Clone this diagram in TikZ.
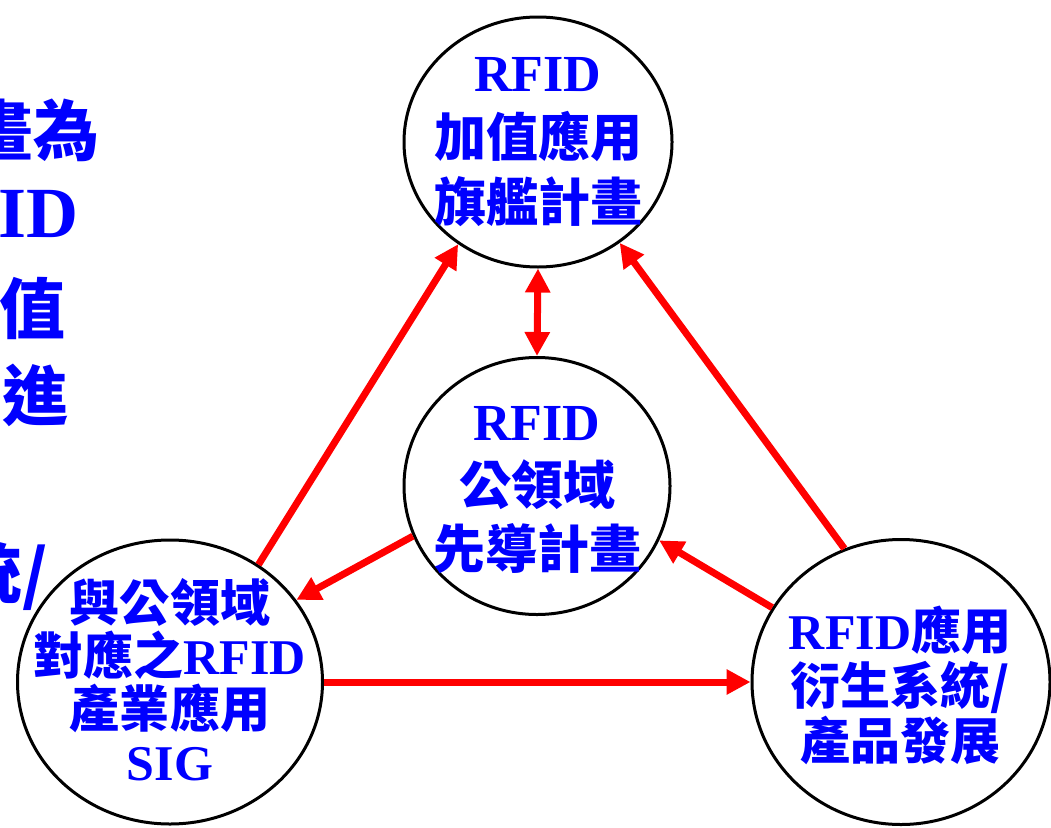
\documentclass[tikz,border=0pt]{standalone}
\usepackage{fontspec}
\setmainfont{Liberation Serif}
\newfontfamily\cjk{Noto Sans CJK TC}
\usetikzlibrary{arrows.meta}
\usetikzlibrary{shapes.geometric}
\definecolor{txtblue}{RGB}{0,0,255}

\begin{document}
\begin{tikzpicture}[x=1pt,y=-1pt]
	\clip (0,0) rectangle (1051,827);

	% text cut off at the left edge
	\begin{scope}[every node/.style={anchor=base east, inner sep=0pt, text=txtblue, font=\bfseries}]
		\node (l1) at (100,155) {\fontsize{66}{66}\selectfont\cjk 畫為};
		\node (l2) at (79,237) {\fontsize{72}{72}\selectfont ID};
		\node (l3) at (66,333) {\fontsize{66}{66}\selectfont\cjk 值};
		\node (l4) at (69,420) {\fontsize{66}{66}\selectfont\cjk 進};
		\node (l5) at (48,598) {\fontsize{66}{66}\selectfont\cjk 統/};
	\end{scope}

	\begin{scope}[every node/.style={ellipse, draw=black, line width=3pt, inner sep=0pt}]
		\node[minimum width=268pt, minimum height=250pt] (plan) at (538,142) {};
		\node[minimum width=266pt, minimum height=257pt] (pilot) at (537,486) {};
		\node[minimum width=305pt, minimum height=284pt] (sig) at (170,682) {};
		\node[minimum width=298pt, minimum height=285pt] (prod) at (901,682) {};
	\end{scope}

	\begin{scope}[every node/.style={align=center, inner sep=0pt, text=txtblue}]
		\node[font=\bfseries\fontsize{52}{65}\selectfont] (plan-t) at (plan) {RFID\\{\cjk 加值應用}\\{\cjk 旗艦計畫}};
		\node[font=\bfseries\fontsize{52}{64}\selectfont] (pilot-t) at (537,490) {RFID\\{\cjk 公領域}\\{\cjk 先導計畫}};
		\node[font=\bfseries\fontsize{50}{53}\selectfont] (sig-t) at (170,680) {{\cjk 與公領域}\\{\cjk 對應之}RFID\\{\cjk 產業應用}\\SIG};
		\node[font=\bfseries\fontsize{50}{55}\selectfont] (prod-t) at (900,685) {RFID{\cjk 應用}\\{\cjk 衍生系統/}\\{\cjk 產品發展}};
	\end{scope}

	\begin{scope}[>={Triangle[length=24pt,width=24pt]},
	              every edge/.style={draw=red, line width=7pt}]
		\path (sig.53) edge[->] (plan.232);
		\path (prod.113) edge[->] (plan.309);
		\path (plan.south) edge[<->] (pilot.north);
		\path (pilot.202) edge[->] (sig.33);
		\path (prod.150) edge[->] (pilot.336);
		\path (sig.east) edge[->] (prod.west);
	\end{scope}
\end{tikzpicture}
\end{document}
